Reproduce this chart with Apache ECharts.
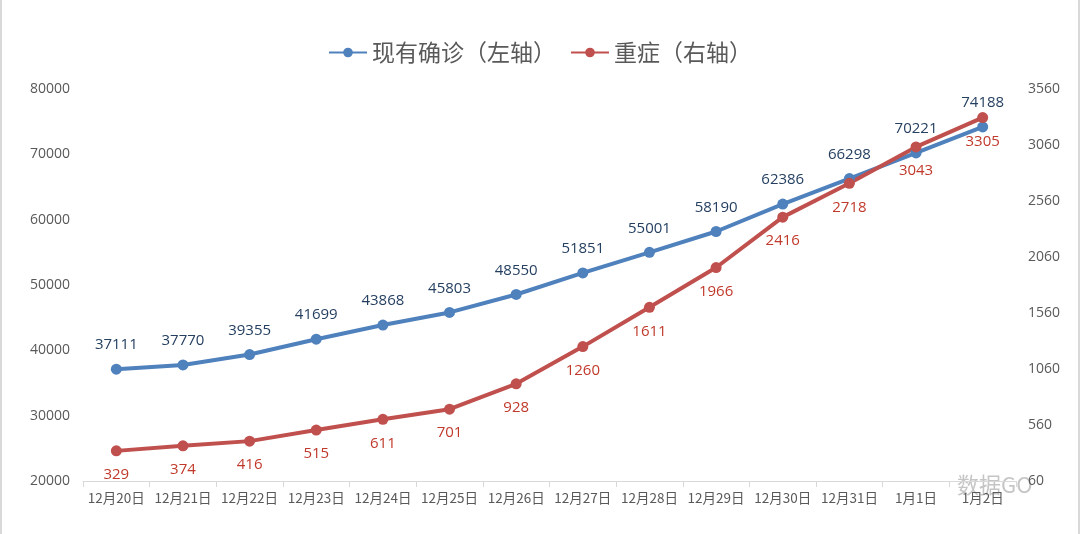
<!DOCTYPE html>
<html>
<head>
<meta charset="utf-8">
<script src="https://cdn.jsdelivr.net/npm/echarts@6/dist/echarts.min.js"></script>
<style>
html,body{margin:0;padding:0;background:#fff;}
#c{width:1080px;height:534px;box-sizing:border-box;border-left:2px solid #d9d9d9;border-right:2px solid #d9d9d9;}
</style>
</head>
<body>
<div id="c"></div>
<script>
const categories = ['12月20日','12月21日','12月22日','12月23日','12月24日','12月25日','12月26日','12月27日','12月28日','12月29日','12月30日','12月31日','1月1日','1月2日'];
const current = [37111,37770,39355,41699,43868,45803,48550,51851,55001,58190,62386,66298,70221,74188];
const severe = [329,374,416,515,611,701,928,1260,1611,1966,2416,2718,3043,3305];
const seriesNames = ['现有确诊（左轴）','重症（右轴）'];

const font = 'Noto Sans CJK SC, Microsoft YaHei, sans-serif';
const numFont = 'Open Sans, Noto Sans CJK SC, sans-serif';
const chart = echarts.init(document.getElementById('c'));
chart.setOption({
  animation:false,
  textStyle:{fontFamily:font},
  legend:{
    top:36, left:'center', itemWidth:38, itemHeight:12, itemGap:14,
    textStyle:{fontSize:23,color:'#595959',fontFamily:font},
    data:seriesNames
  },
  grid:{left:81,right:62,top:89,bottom:53},
  xAxis:{
    type:'category', data:categories, boundaryGap:true,
    axisLine:{lineStyle:{color:'#d9d9d9',width:1}},
    axisTick:{show:true,alignWithLabel:false,length:6,lineStyle:{color:'#d9d9d9'}},
    axisLabel:{color:'#595959',fontSize:13.5,margin:10,interval:0,fontFamily:font}
  },
  yAxis:[
    {type:'value',min:20000,max:80000,interval:10000,
     splitLine:{show:false},axisLine:{show:false},axisTick:{show:false},
     axisLabel:{color:'#595959',fontSize:14,margin:13,fontFamily:numFont,formatter:v=>String(v)}},
    {type:'value',min:60,max:3560,interval:500,
     splitLine:{show:false},axisLine:{show:false},axisTick:{show:false},
     axisLabel:{color:'#595959',fontSize:14,margin:12,fontFamily:numFont,formatter:v=>String(v)}}
  ],
  series:[
    {name:seriesNames[0],type:'line',yAxisIndex:0,data:current,
     symbol:'circle',symbolSize:11,
     lineStyle:{color:'#4f81bd',width:4},itemStyle:{color:'#4f81bd'},
     label:{show:true,position:'top',distance:11,color:'#243f60',fontSize:15,fontFamily:numFont}},
    {name:seriesNames[1],type:'line',yAxisIndex:1,data:severe,
     symbol:'circle',symbolSize:11,
     lineStyle:{color:'#c0504d',width:4},itemStyle:{color:'#c0504d'},
     label:{show:true,position:'bottom',distance:11,color:'#c0392b',fontSize:15,fontFamily:numFont}}
  ],
  graphic:[
    {type:'text',left:955,top:474,style:{text:'数据GO',fontSize:22,fill:'rgba(150,150,150,0.55)',fontFamily:font}}
  ]
});
</script>
</body>
</html>
